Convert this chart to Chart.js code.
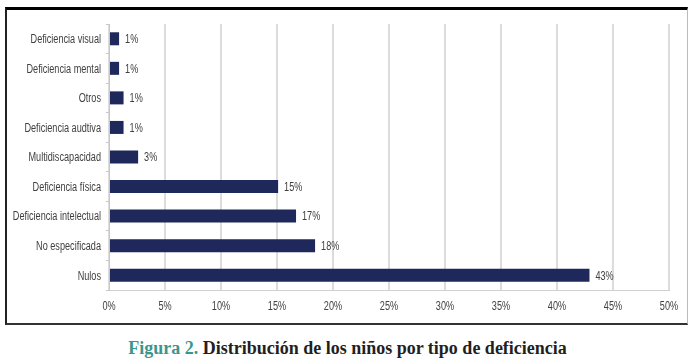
<!DOCTYPE html>
<html>
<head>
<meta charset="utf-8">
<script src="https://cdn.jsdelivr.net/npm/chart.js@4/dist/chart.umd.min.js"></script>
<style>
  html, body { margin: 0; padding: 0; background: #fff; }
  body { width: 695px; height: 364px; position: relative; overflow: hidden; }
  #marco {
    position: absolute; left: 5px; top: 7px; width: 683px; height: 318px;
    box-sizing: border-box;
    border-top: 3px solid #000; border-left: 2px solid #222;
    border-bottom: 2px solid #333; border-right: 1px solid #bbb;
  }
  #chartDef { position: absolute; left: 0; top: 0; }
  #titulo {
    position: absolute; left: 0; top: 338px; width: 695px; text-align: center;
    font-family: "Liberation Serif", "DejaVu Serif", serif; font-weight: bold;
    font-size: 18px; line-height: 20px; color: #231f20;
  }
  #titulo span { color: #3a968c; }
</style>
</head>
<body>
<div id="marco"><canvas id="chartDef" width="680" height="313"></canvas></div>
<div id="titulo"><span>Figura 2.</span> Distribución de los niños por tipo de deficiencia</div>

<script>
// Datos del gráfico (porcentajes)
const categorias = ['Deficiencia visual', 'Deficiencia mental', 'Otros', 'Deficiencia audtiva', 'Multidiscapacidad',
  'Deficiencia física', 'Deficiencia intelectual', 'No especificada', 'Nulos'];
const porcentajes = [0.9, 0.9, 1.3, 1.3, 2.6, 15.1, 16.7, 18.4, 42.9];
const ticksX = [0, 5, 10, 15, 20, 25, 30, 35, 40, 45, 50];

// La figura usa una letra estrecha: se dibuja Liberation Sans comprimida en horizontal
const FUENTE = '12px "Liberation Sans", Arial, sans-serif';
const ESTRECHO = 0.76;
const GRIS_TEXTO = '#404040';

function textoEstrecho(ctx, txt, x, y, align) {
  ctx.save();
  ctx.translate(x, y);
  ctx.scale(ESTRECHO, 1);
  ctx.textAlign = align;
  ctx.fillText(txt, 0, 0);
  ctx.restore();
}

// Rótulos de ejes y etiquetas de valor
const rotulos = {
  id: 'rotulos',
  afterDraw(chart) {
    const ctx = chart.ctx;
    const x = chart.scales.x, y = chart.scales.y;
    ctx.save();
    ctx.font = FUENTE;
    ctx.fillStyle = GRIS_TEXTO;
    ctx.textBaseline = 'middle';
    y.ticks.forEach((t, i) => textoEstrecho(ctx, categorias[i], y.right - 8, y.getPixelForTick(i) + 1, 'right'));
    x.ticks.forEach(t => textoEstrecho(ctx, t.value + '%', x.getPixelForValue(t.value), x.top + 17, 'center'));
    chart.getDatasetMeta(0).data.forEach((bar, i) => {
      textoEstrecho(ctx, Math.round(porcentajes[i]) + '%', bar.x + 6, bar.y + 1, 'left');
    });
    ctx.restore();
  }
};

new Chart(document.getElementById('chartDef'), {
  type: 'bar',
  data: {
    labels: categorias,
    datasets: [{
      data: porcentajes,
      backgroundColor: '#1f285a',
      borderWidth: 0,
      categoryPercentage: 1,
      barPercentage: 0.44
    }]
  },
  options: {
    indexAxis: 'y',
    responsive: false,
    animation: false,
    layout: { padding: { top: 14, right: 18, left: 0, bottom: 0 } },
    plugins: { legend: { display: false }, tooltip: { enabled: false } },
    scales: {
      x: {
        min: 0, max: 50,
        afterFit: s => { s.height = 33; },
        afterBuildTicks: s => { s.ticks = ticksX.map(v => ({ value: v })); },
        grid: { color: '#dcdcdc', lineWidth: 2, drawTicks: false },
        border: { color: '#d0d0d0', width: 1 },
        ticks: { display: false }
      },
      y: {
        afterFit: s => { s.width = 102; },
        grid: { drawOnChartArea: false, drawTicks: true, tickLength: 3, color: '#c8c8c8' },
        border: { color: '#c8c8c8', width: 1 },
        ticks: { display: false }
      }
    }
  },
  plugins: [rotulos]
});
</script>
</body>
</html>
